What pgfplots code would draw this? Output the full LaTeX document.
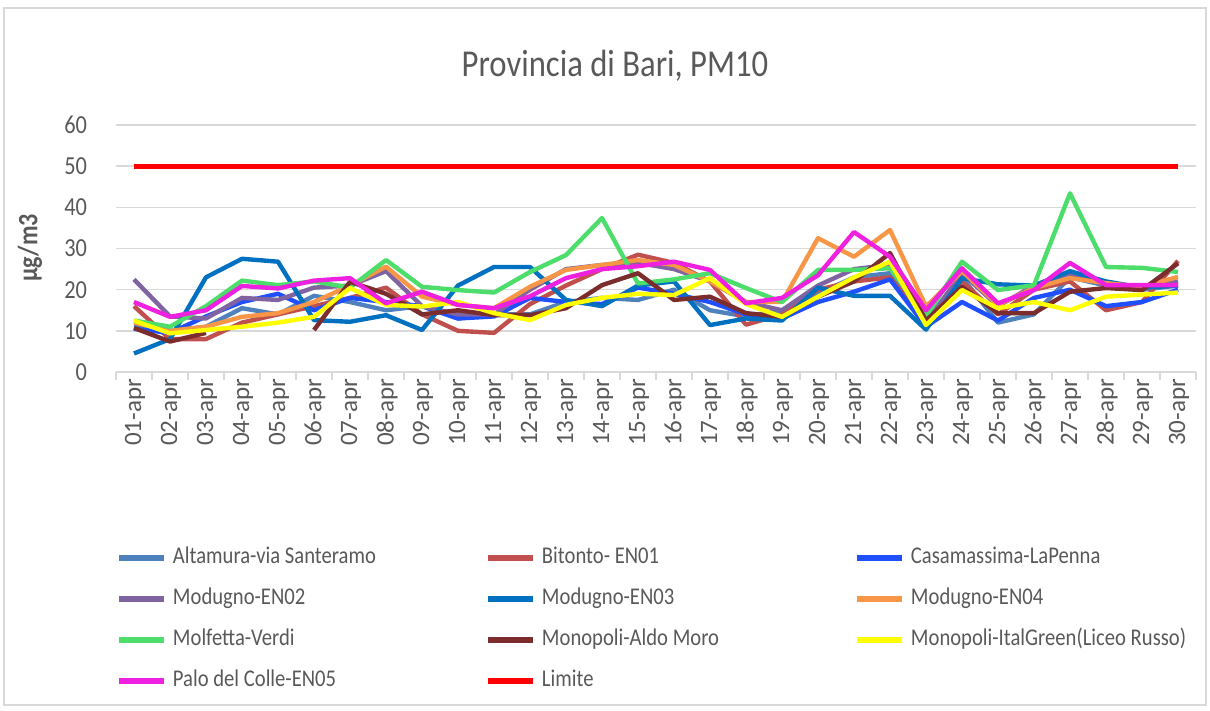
\documentclass[border=0pt]{standalone}
\usepackage{pgfplots}
\pgfplotsset{compat=1.18}
\usepackage{pgfplotstable}
\usepackage{fontspec}
\setmainfont{Carlito}[FakeStretch=0.86]
\newfontfamily\plainfont{Carlito}
\definecolor{txt}{HTML}{595959}
\definecolor{gridc}{HTML}{D9D9D9}
\definecolor{cA}{HTML}{4F81BD}
\definecolor{cB}{HTML}{C0504D}
\definecolor{cC}{HTML}{1F4FFF}
\definecolor{cD}{HTML}{8064A2}
\definecolor{cE}{HTML}{0070C0}
\definecolor{cF}{HTML}{F79646}
\definecolor{cG}{HTML}{4CDD6A}
\definecolor{cH}{HTML}{7B2C2C}
\definecolor{cI}{HTML}{FFFF00}
\definecolor{cJ}{HTML}{F020E0}
\definecolor{cK}{HTML}{FF0000}

\pgfplotstableread{
day A B C D E F G H I J K
1 11 16 10.5 22.5 4.5 12 12.5 10.7 12.5 17 50
2 10 8 9.5 13.5 8 10 11 7.4 9.4 13.4 50
3 11 8 13.5 13 23 11 16 9.5 10.2 15 50
4 15.5 12 17 18 27.5 13.4 22.2 nan 11 20.9 50
5 14 14 19 17.5 26.8 14.3 21.1 nan 12 20.3 50
6 18.5 16 15 20.5 12.6 17 22 10.2 13.4 22.2 50
7 17 18 18 21 12.2 21 20.5 21.9 20.4 22.8 50
8 15 20.5 17 24.5 13.8 25.6 27.2 19 16.3 16.7 50
9 16 14 16 16 10.2 18.3 20.7 14 15.9 19.5 50
10 13 10 13 14 21 16.3 19.9 15 17 16.3 50
11 14 9.5 13.5 14 25.5 15.5 19.3 13.8 14.3 15.5 50
12 14 16.5 18 20 25.5 20.7 24.3 13.8 12.6 18.4 50
13 17 21 17 25 17.5 24.8 28.4 15.5 16.3 22.8 50
14 18 25 16.5 26 16 26 37.4 21.1 18 25 50
15 17.5 28.5 20.5 26.5 21 27.2 21.5 24 19 25.7 50
16 20 26.5 19 25 22 26 22.5 17.5 18.7 26.8 50
17 15 22 17 22 11.4 22 24 18.3 22.8 24.8 50
18 13.5 11.5 14 17 13 17 20.4 14.3 16.5 16.7 50
19 15 14 13 15 12.5 17 17 13.4 13.4 18 50
20 19 20 17 21 20.5 32.5 24.8 18.3 18.3 23.5 50
21 23 22 19.5 25 18.5 28 24.8 22 23 34 50
22 24 23 22.5 26 18.5 34.5 25.2 28.9 26.8 28 50
23 12 12 11 12 10.3 15.9 13.5 12.5 11.4 15 50
24 23 22 17 24 22.8 24.5 26.8 20.7 19.9 25.2 50
25 12 14 12.5 16 21.3 16.3 19.9 14.3 15.5 16.7 50
26 14 20 18 21 21 20.4 21.1 14.3 17 19.9 50
27 23 22 20 24 24.5 22.8 43.4 19.5 15 26.5 50
28 21 15 16 21 22 21.6 25.5 20.4 18.3 21.1 50
29 20 17 17 20 20.5 20.7 25.3 19.9 18.8 21.1 50
30 21 27 20 22 21 23.1 24.3 26.4 19.3 21.1 50
}\data

\begin{document}
\begin{tikzpicture}
\useasboundingbox (-58pt,-169.5pt) rectangle (547pt,186pt);
\draw[gridc, line width=0.75pt] (-56pt,-166.5pt) rectangle (545pt,182pt);
\begin{axis}[
  at={(0pt,0pt)}, anchor=south west,
  scale only axis, width=540pt, height=123.5pt,
  xmin=0.5, xmax=30.5, ymin=0, ymax=60,
  xtick={1,...,30},
  xticklabels={01-apr,02-apr,03-apr,04-apr,05-apr,06-apr,07-apr,08-apr,09-apr,10-apr,11-apr,12-apr,13-apr,14-apr,15-apr,16-apr,17-apr,18-apr,19-apr,20-apr,21-apr,22-apr,23-apr,24-apr,25-apr,26-apr,27-apr,28-apr,29-apr,30-apr},
  minor xtick={0.5,1.5,...,30.5},
  ytick={0,10,...,60},
  separate axis lines,
  axis x line*=bottom, axis y line*=left,
  y axis line style={draw=none},
  x axis line style={gridc, line width=0.75pt},
  tick align=outside,
  major tick length=0pt, minor tick length=4pt,
  major tick style={draw=none},
  minor tick style={gridc, line width=0.75pt},
  ymajorgrids, grid style={gridc, line width=0.75pt},
  /pgf/number format/assume math mode=true,
  xticklabel style={rotate=90, anchor=east, font=\plainfont\fontsize{12.5}{12.5}\selectfont, text=txt, yshift=-0.5pt},
  yticklabel style={font=\fontsize{13}{13}\selectfont, text=txt, xshift=-11pt},
  title={Provincia di Bari, PM10},
  title style={at={(axis description cs:0.462,1.19)}, anchor=center, font=\fontsize{19}{19}\selectfont, text=txt},
  ylabel={µg/m3},
  ylabel style={at={(axis description cs:-0.0796,0.502)}, anchor=center, font=\bfseries\fontsize{14}{14}\selectfont, text=txt},
  legend columns=3,
  legend cell align=left,
  legend style={at={(axis description cs:0.0,-0.696)}, anchor=north west, draw=none, fill=none, inner sep=0pt, outer sep=0pt, row sep=6.5pt,
    nodes={inner sep=1pt, text height=9pt, text depth=3pt, font=\fontsize{12}{12}\selectfont, text=txt},
    /tikz/every odd column/.style={column sep=2pt}},
  legend image code/.code={\draw[#1, line width=3pt] (0pt,0pt) -- (22.5pt,0pt);},
  every axis plot/.append style={line width=2.2pt, line join=round, sharp plot, no markers},
  unbounded coords=jump,
]
\addplot[cA] table[x=day,y=A]{\data};
\addlegendentry{\makebox[155pt][l]{Altamura-via Santeramo}}
\addplot[cB] table[x=day,y=B]{\data};
\addlegendentry{\makebox[155pt][l]{Bitonto- EN01}}
\addplot[cC] table[x=day,y=C]{\data};
\addlegendentry{\makebox[155pt][l]{Casamassima-LaPenna}}
\addplot[cD] table[x=day,y=D]{\data};
\addlegendentry{\makebox[155pt][l]{Modugno-EN02}}
\addplot[cE] table[x=day,y=E]{\data};
\addlegendentry{\makebox[155pt][l]{Modugno-EN03}}
\addplot[cF] table[x=day,y=F]{\data};
\addlegendentry{\makebox[155pt][l]{Modugno-EN04}}
\addplot[cG] table[x=day,y=G]{\data};
\addlegendentry{\makebox[155pt][l]{Molfetta-Verdi}}
\addplot[cH] table[x=day,y=H]{\data};
\addlegendentry{\makebox[155pt][l]{Monopoli-Aldo Moro}}
\addplot[cI] table[x=day,y=I]{\data};
\addlegendentry{\makebox[140pt][l]{Monopoli-ItalGreen(Liceo Russo)}}
\addplot[cJ] table[x=day,y=J]{\data};
\addlegendentry{\makebox[155pt][l]{Palo del Colle-EN05}}
\addplot[cK, line width=2.5pt] table[x=day,y=K]{\data};
\addlegendentry{\makebox[155pt][l]{Limite}}
\end{axis}
\end{tikzpicture}
\end{document}
